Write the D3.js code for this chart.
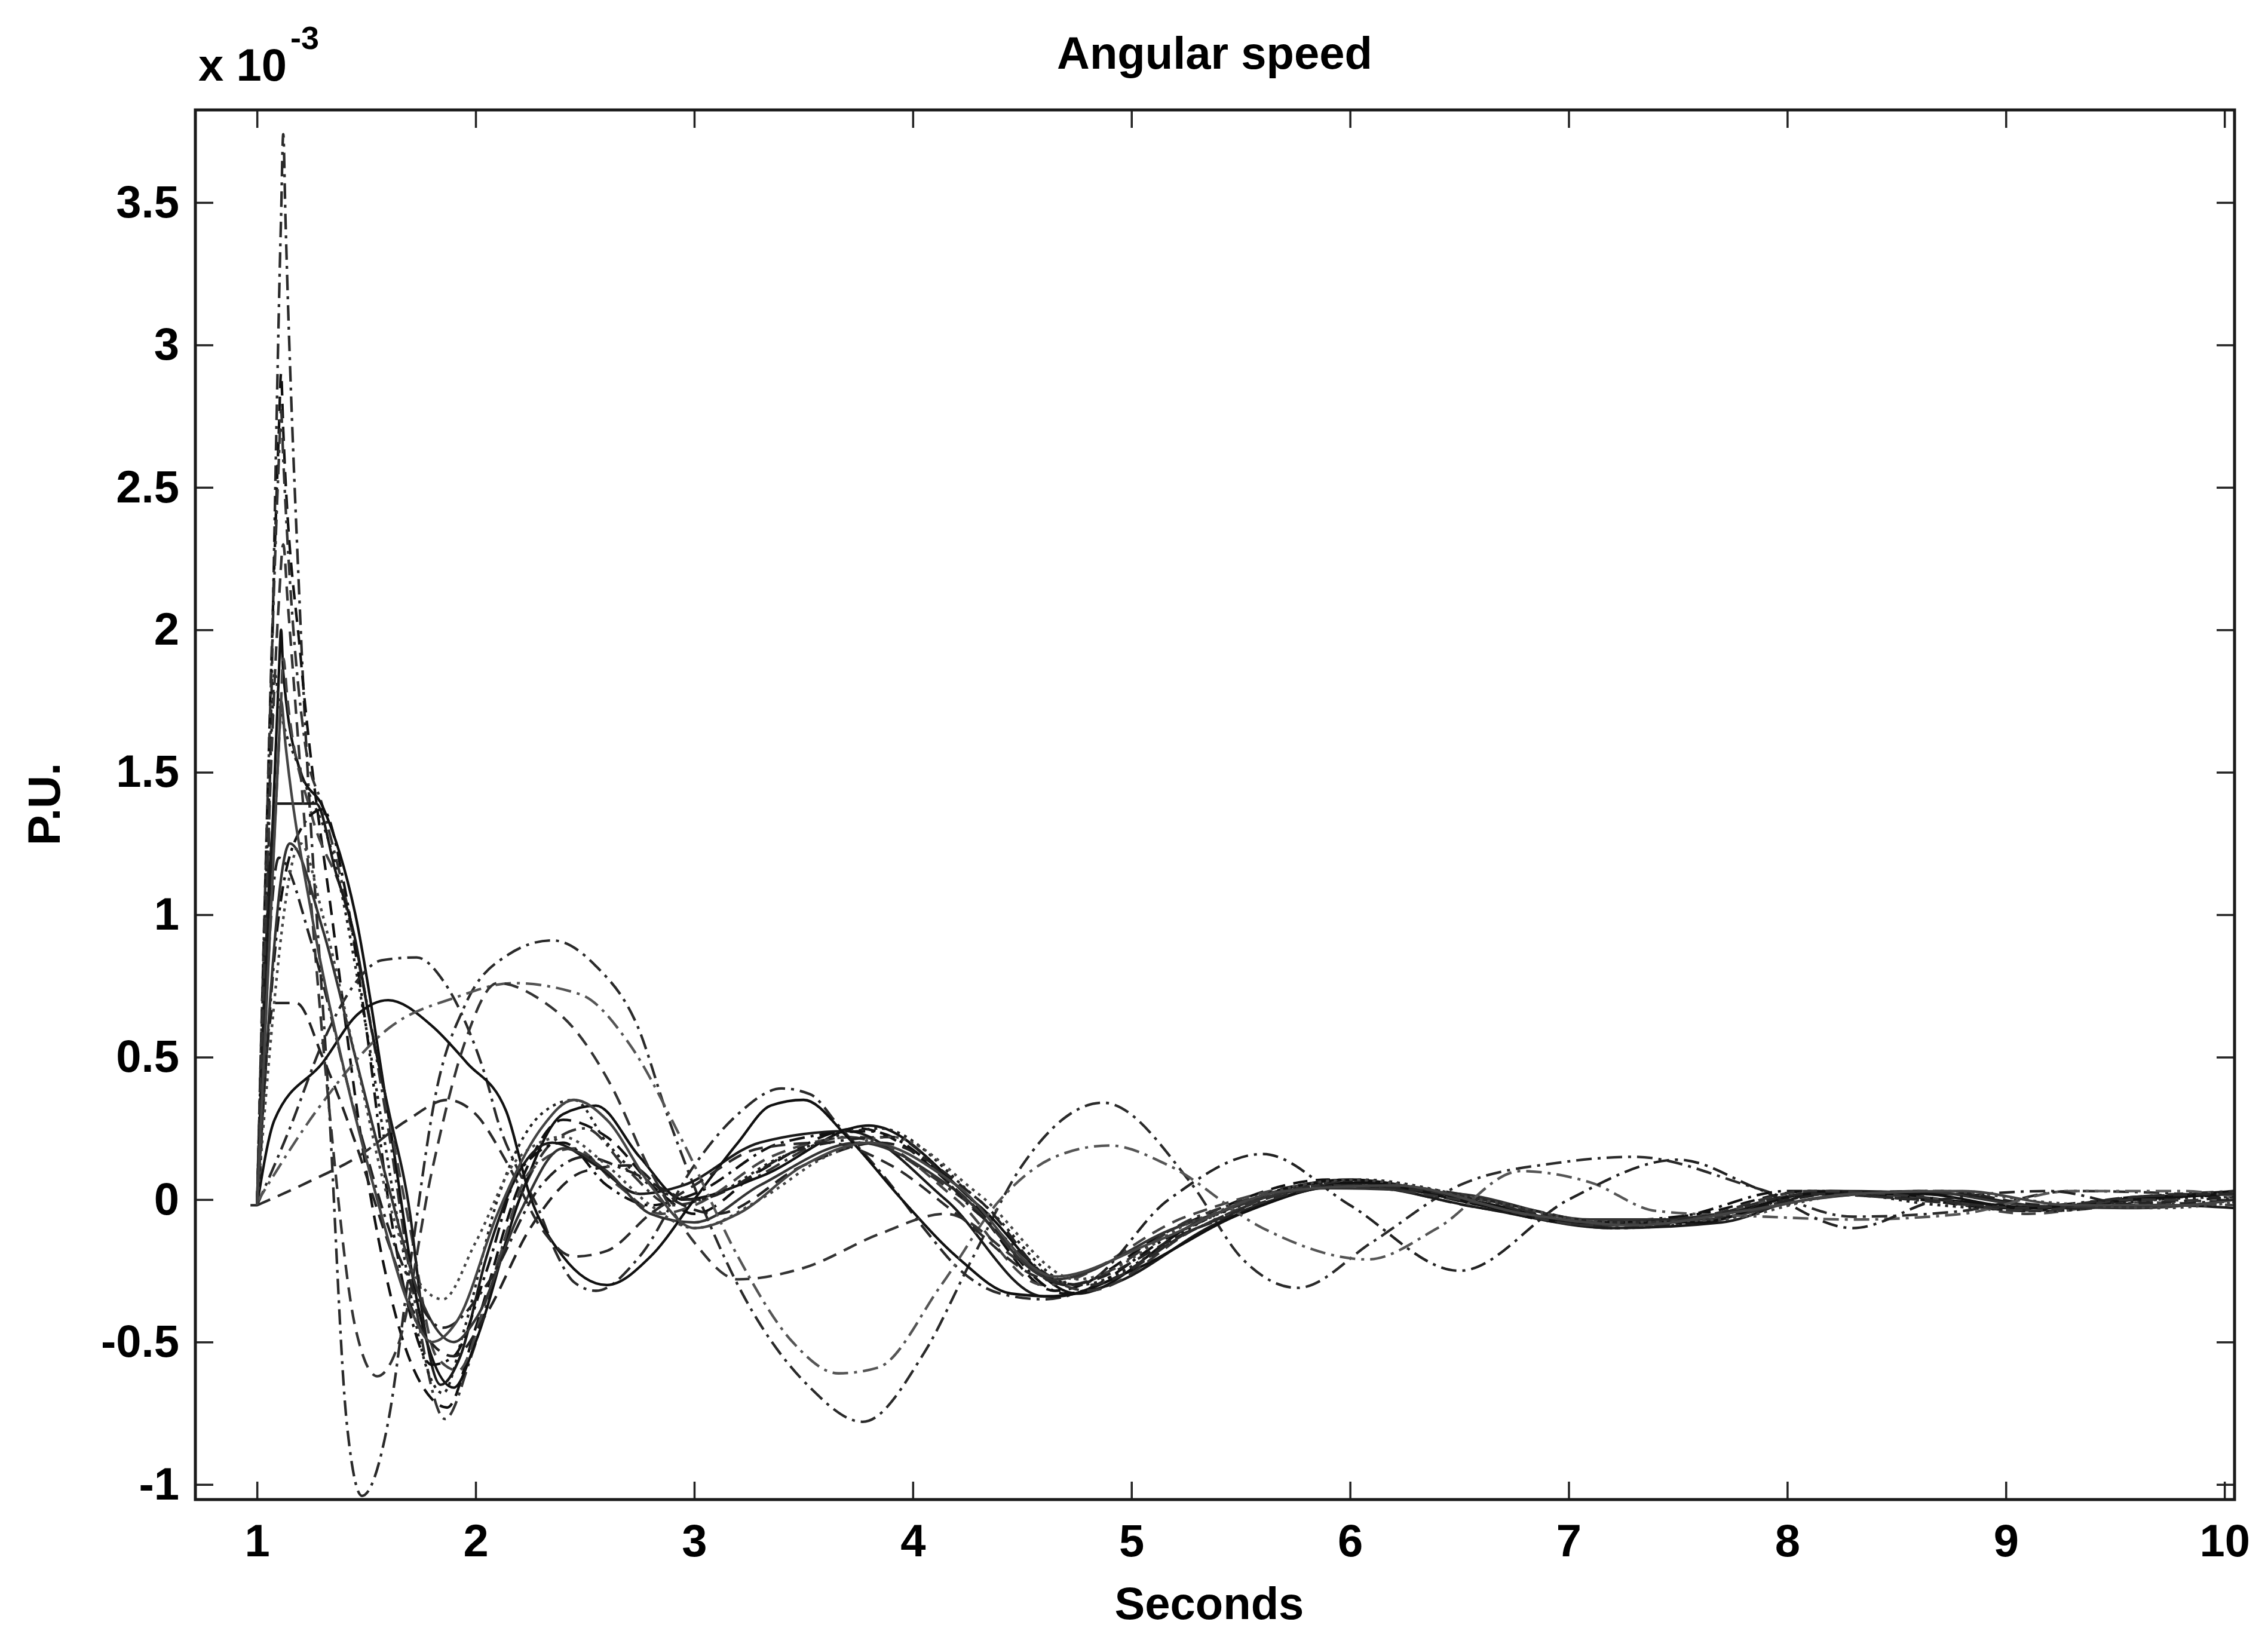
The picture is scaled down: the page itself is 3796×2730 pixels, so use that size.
<!DOCTYPE html>
<html><head><meta charset="utf-8">
<script src="https://cdn.jsdelivr.net/npm/d3@7"></script>
<style>
body{margin:0;background:#fff}
svg{display:block}
text{font-family:"Liberation Sans",Arial,Helvetica,sans-serif;font-weight:bold;fill:#000}
</style>
</head><body>
<script>
// ---------------- data ----------------
const chartTitle = "Angular speed";
const xLabel = "Seconds";
const yLabel = "P.U.";
const yExponent = "-3";
const xTicks = [1,2,3,4,5,6,7,8,9,10];
const xTickLabels = ["1","2","3","4","5","6","7","8","9","10"];
const yTicks = [-1,-0.5,0,0.5,1,1.5,2,2.5,3,3.5];
const yTickLabels = ["-1","-0.5","0","0.5","1","1.5","2","2.5","3","3.5"];
const xLimits = [0.718,10.046];
const yLimits = [-1.053,3.825];

// each curve: [seconds, value x 1e-3]
const c01 = [[0.97,-0.02],[1.0,-0.02],[1.11,3.45],[1.12,3.74],[1.13,3.45],[1.2,2.0],[1.33,0.32],[1.41,-0.78],[1.48,-1.04],[1.6,-0.78],[1.7,-0.23],[1.82,0.38],[1.95,0.68],[2.15,0.86],[2.35,0.91],[2.55,0.82],[2.74,0.61],[2.88,0.29],[3.04,-0.03],[3.18,-0.27],[3.53,-0.66],[3.77,-0.78],[4.05,-0.54],[4.27,-0.21],[4.5,0.12],[4.87,0.34],[5.27,0.06],[5.51,-0.21],[5.76,-0.31],[6.1,-0.15],[6.5,0.05],[6.96,0.13],[7.3,0.15],[7.86,0.04],[8.3,-0.06],[8.8,-0.04],[9.3,0.03],[9.8,0.02],[10.05,0.0]];
const c02 = [[1.0,-0.02],[1.1,2.7],[1.11,2.9],[1.12,2.7],[1.2,1.9],[1.35,0.95],[1.5,0.1],[1.65,-0.45],[1.8,-0.7],[1.87,-0.73],[2.0,-0.45],[2.2,0.05],[2.4,0.28],[2.6,0.22],[2.85,0.02],[3.0,-0.05],[3.3,0.1],[3.75,0.25],[4.25,0.0],[4.65,-0.32],[5.2,-0.1],[5.9,0.07],[6.5,0.0],[7.1,-0.09],[7.6,-0.05],[8.1,0.03],[8.6,0.0],[9.1,-0.04],[9.6,0.01],[10.05,0.02]];
const c03 = [[1.0,-0.02],[1.1,2.6],[1.11,2.77],[1.12,2.6],[1.22,1.6],[1.3,1.38],[1.45,0.9],[1.6,0.25],[1.72,-0.35],[1.86,-0.77],[1.98,-0.55],[2.15,-0.1],[2.35,0.2],[2.5,0.25],[2.7,0.1],[2.9,-0.02],[3.2,0.05],[3.7,0.22],[4.2,0.02],[4.7,-0.3],[5.3,-0.06],[6.0,0.06],[6.6,-0.02],[7.2,-0.1],[7.7,-0.06],[8.2,0.02],[8.7,-0.01],[9.2,-0.04],[9.7,0.0],[10.05,0.03]];
const c04 = [[1.0,-0.02],[1.1,1.85],[1.11,2.0],[1.12,1.85],[1.2,1.5],[1.3,1.38],[1.45,1.0],[1.6,0.3],[1.75,-0.42],[1.9,-0.66],[2.0,-0.5],[2.2,0.0],[2.4,0.3],[2.55,0.33],[2.75,0.15],[2.95,0.0],[3.3,0.08],[3.8,0.26],[4.3,-0.02],[4.75,-0.33],[5.3,-0.08],[6.0,0.07],[6.6,-0.01],[7.15,-0.09],[7.7,-0.05],[8.2,0.03],[8.7,0.0],[9.2,-0.03],[9.7,0.01],[10.05,0.03]];
const c05 = [[1.0,-0.02],[1.11,1.75],[1.12,1.9],[1.14,1.75],[1.25,1.35],[1.4,1.05],[1.55,0.5],[1.7,-0.1],[1.82,-0.55],[1.92,-0.6],[2.05,-0.35],[2.25,0.1],[2.45,0.18],[2.65,0.05],[2.85,-0.05],[3.0,-0.02],[3.35,0.15],[3.75,0.22],[4.2,0.0],[4.6,-0.3],[5.25,-0.06],[5.95,0.06],[6.6,-0.03],[7.1,-0.08],[7.6,-0.06],[8.1,0.02],[8.6,0.01],[9.1,-0.05],[9.6,-0.01],[10.05,-0.02]];
const c06 = [[1.0,-0.02],[1.07,1.7],[1.08,1.85],[1.1,1.75],[1.2,1.5],[1.35,1.2],[1.5,0.6],[1.65,-0.1],[1.78,-0.6],[1.85,-0.68],[1.95,-0.45],[2.1,0.0],[2.3,0.3],[2.45,0.35],[2.6,0.2],[2.8,0.05],[3.0,0.0],[3.4,0.15],[3.85,0.25],[4.3,0.0],[4.75,-0.3],[5.4,-0.05],[6.05,0.07],[6.6,0.0],[7.2,-0.1],[7.7,-0.07],[8.15,0.03],[8.7,-0.02],[9.2,-0.04],[9.7,0.0],[10.05,0.01]];
const c07 = [[1.0,-0.02],[1.09,1.39],[1.27,1.39],[1.36,1.15],[1.45,0.91],[1.51,0.65],[1.6,0.32],[1.7,-0.05],[1.76,-0.42],[1.84,-0.65],[1.93,-0.55],[2.05,-0.2],[2.2,0.1],[2.35,0.2],[2.55,0.12],[2.75,0.02],[2.95,0.05],[3.3,0.2],[3.7,0.24],[4.15,0.0],[4.6,-0.34],[4.9,-0.3],[5.4,-0.08],[6.0,0.05],[6.6,-0.03],[7.2,-0.1],[7.7,-0.08],[8.2,0.03],[8.75,0.02],[9.25,-0.03],[9.75,-0.02],[10.05,-0.03]];
const c08 = [[1.0,-0.02],[1.1,1.0],[1.2,1.3],[1.3,1.37],[1.4,1.1],[1.5,0.6],[1.6,0.0],[1.7,-0.4],[1.8,-0.58],[1.9,-0.55],[2.05,-0.25],[2.2,0.1],[2.4,0.2],[2.6,0.05],[2.8,-0.02],[3.0,0.02],[3.4,0.2],[3.8,0.24],[4.2,0.05],[4.7,-0.33],[5.2,-0.12],[5.9,0.06],[6.4,0.02],[7.0,-0.08],[7.5,-0.06],[8.0,0.03],[8.5,0.02],[9.0,-0.03],[9.5,0.0],[10.05,0.02]];
const c09 = [[1.0,-0.02],[1.15,1.25],[1.3,0.95],[1.45,0.5],[1.6,0.05],[1.75,-0.35],[1.9,-0.5],[2.0,-0.42],[2.2,-0.05],[2.4,0.18],[2.6,0.1],[2.8,-0.05],[3.0,-0.08],[3.3,0.05],[3.75,0.2],[4.2,0.03],[4.65,-0.28],[5.2,-0.1],[5.9,0.04],[6.5,0.02],[7.1,-0.07],[7.6,-0.07],[8.1,0.0],[8.6,0.03],[9.1,-0.02],[9.6,-0.03],[10.05,0.0]];
const c10 = [[1.0,-0.02],[1.08,0.69],[1.18,0.69],[1.3,0.5],[1.45,0.2],[1.6,-0.15],[1.75,-0.45],[1.9,-0.55],[2.05,-0.4],[2.25,-0.1],[2.5,0.1],[2.7,0.12],[2.9,0.0],[3.1,-0.05],[3.5,0.12],[3.85,0.2],[4.3,0.0],[4.7,-0.3],[5.3,-0.1],[6.0,0.05],[6.6,0.0],[7.2,-0.08],[7.7,-0.05],[8.2,0.02],[8.7,0.03],[9.2,-0.02],[9.7,-0.01],[10.05,0.01]];
const c11 = [[1.0,-0.02],[1.15,0.25],[1.3,0.55],[1.45,0.76],[1.57,0.84],[1.73,0.85],[1.85,0.77],[1.96,0.61],[2.05,0.42],[2.1,0.28],[2.19,0.11],[2.28,-0.02],[2.37,-0.19],[2.45,-0.29],[2.55,-0.32],[2.75,-0.2],[3.0,0.12],[3.2,0.3],[3.4,0.39],[3.53,0.37],[3.66,0.26],[3.87,0.08],[4.05,-0.1],[4.22,-0.25],[4.4,-0.33],[4.6,-0.35],[4.85,-0.3],[5.3,-0.1],[6.0,0.06],[6.5,0.02],[7.1,-0.09],[7.6,-0.08],[8.1,0.02],[8.6,0.0],[9.1,-0.03],[9.6,0.01],[10.05,0.03]];
const c12 = [[1.0,-0.02],[1.08,0.28],[1.3,0.48],[1.46,0.65],[1.6,0.7],[1.8,0.61],[1.96,0.48],[2.14,0.31],[2.25,0.01],[2.4,-0.2],[2.6,-0.3],[2.8,-0.2],[3.0,0.0],[3.2,0.2],[3.35,0.33],[3.5,0.35],[3.7,0.22],[3.95,0.0],[4.2,-0.2],[4.45,-0.33],[4.65,-0.34],[5.0,-0.25],[5.5,-0.05],[6.05,0.06],[6.6,-0.02],[7.1,-0.08],[7.6,-0.08],[8.1,0.02],[8.6,0.02],[9.1,-0.03],[9.6,0.0],[10.05,0.02]];
const c13 = [[1.0,-0.01],[1.28,0.32],[1.6,0.6],[1.91,0.71],[2.17,0.76],[2.48,0.72],[2.7,0.55],[2.95,0.2],[3.2,-0.2],[3.45,-0.5],[3.66,-0.61],[3.84,-0.59],[4.13,-0.3],[4.4,0.0],[4.65,0.15],[4.9,0.19],[5.17,0.12],[5.6,-0.1],[6.08,-0.21],[6.4,-0.1],[6.78,0.1],[7.1,0.06],[7.4,-0.04],[7.9,-0.06],[8.3,-0.07],[8.8,-0.05],[9.3,0.03],[9.8,0.03],[10.05,0.01]];
const c14 = [[1.0,-0.02],[1.1,2.1],[1.12,2.3],[1.14,2.1],[1.22,1.3],[1.33,0.32],[1.45,-0.45],[1.55,-0.62],[1.65,-0.5],[1.8,0.1],[1.95,0.55],[2.1,0.76],[2.3,0.7],[2.45,0.6],[2.62,0.4],[2.8,0.1],[3.0,-0.15],[3.2,-0.28],[3.5,-0.24],[3.85,-0.12],[4.15,-0.05],[4.5,-0.22],[4.8,-0.32],[5.3,-0.1],[5.9,0.05],[6.5,0.0],[7.1,-0.09],[7.6,-0.06],[8.1,0.03],[8.6,0.01],[9.1,-0.04],[9.6,0.0],[10.05,-0.01]];
const c15 = [[1.0,-0.02],[1.23,0.06],[1.46,0.15],[1.69,0.28],[1.87,0.35],[2.0,0.3],[2.15,0.12],[2.3,-0.1],[2.45,-0.2],[2.6,-0.18],[2.8,-0.05],[3.0,0.05],[3.3,0.18],[3.6,0.2],[3.9,0.12],[4.2,-0.05],[4.6,-0.28],[4.8,-0.3],[5.3,-0.1],[6.0,0.05],[6.6,0.0],[7.1,-0.08],[7.6,-0.06],[8.1,0.02],[8.6,0.0],[9.1,-0.03],[9.6,0.01],[10.05,0.02]];
const c16 = [[1.0,-0.02],[1.1,1.2],[1.25,0.9],[1.45,0.3],[1.65,-0.2],[1.85,-0.45],[2.05,-0.3],[2.3,0.05],[2.5,0.15],[2.7,0.1],[3.0,0.0],[3.5,0.18],[3.9,0.22],[4.3,-0.05],[4.75,-0.3],[5.17,0.0],[5.6,0.16],[6.0,-0.02],[6.5,-0.25],[7.0,0.0],[7.5,0.14],[7.86,0.04],[8.3,-0.1],[8.7,0.0],[9.2,0.03],[9.6,-0.02],[10.05,0.0]];
const c17 = [[1.0,-0.02],[1.1,1.6],[1.11,1.75],[1.13,1.6],[1.25,1.0],[1.4,0.45],[1.55,0.0],[1.7,-0.38],[1.8,-0.5],[1.92,-0.42],[2.1,-0.05],[2.3,0.25],[2.45,0.35],[2.6,0.28],[2.8,0.05],[3.0,-0.1],[3.2,-0.05],[3.5,0.12],[3.8,0.2],[4.2,0.05],[4.65,-0.27],[5.1,-0.15],[5.7,0.03],[6.2,0.05],[6.8,-0.05],[7.3,-0.09],[7.8,-0.04],[8.3,0.02],[8.8,0.03],[9.3,-0.02],[9.8,-0.02],[10.05,0.0]];
const c18 = [[1.0,-0.02],[1.2,1.25],[1.3,1.0],[1.45,0.5],[1.6,0.0],[1.75,-0.3],[1.85,-0.35],[2.0,-0.15],[2.2,0.15],[2.4,0.22],[2.6,0.12],[2.8,-0.02],[3.0,-0.1],[3.3,0.0],[3.6,0.15],[3.9,0.22],[4.3,0.02],[4.75,-0.28],[5.3,-0.07],[6.0,0.07],[6.6,0.0],[7.2,-0.08],[7.7,-0.07],[8.2,0.01],[8.7,0.03],[9.2,-0.01],[9.7,-0.03],[10.05,-0.01]];

const curves = [c01,c02,c03,c04,c05,c06,c07,c08,c09,c10,c11,c12,c13,c14,c15,c16,c17,c18];

// ---------------- styles ----------------
const lineStyles = [
  {dash:"26,10,5,10", color:"#2a2a2a"},
  {dash:"24,14",      color:"#111"},
  {dash:"26,10,5,10", color:"#333"},
  {dash:null,         color:"#111"},
  {dash:"24,14",      color:"#444"},
  {dash:"5,8",        color:"#222"},
  {dash:null,         color:"#1a1a1a"},
  {dash:"26,10,5,10", color:"#111"},
  {dash:null,         color:"#333"},
  {dash:"24,14",      color:"#222"},
  {dash:"26,10,5,10", color:"#2a2a2a"},
  {dash:null,         color:"#111"},
  {dash:"26,10,5,10", color:"#555"},
  {dash:"24,14",      color:"#333"},
  {dash:"24,14",      color:"#2a2a2a"},
  {dash:"26,10,5,10", color:"#222"},
  {dash:null,         color:"#444"},
  {dash:"5,8",        color:"#444"}
];

// ---------------- layout ----------------
const W = 3796, H = 2730;
const plot = {left:327, right:3740, top:184, bottom:2510};

const svg = d3.select("body").append("svg").attr("width",W).attr("height",H);
svg.append("rect").attr("width",W).attr("height",H).attr("fill","#fff");

const x = d3.scaleLinear().domain(xLimits).range([plot.left, plot.right]);
const y = d3.scaleLinear().domain(yLimits).range([plot.bottom, plot.top]);

svg.append("defs").append("clipPath").attr("id","clip")
  .append("rect").attr("x",plot.left).attr("y",plot.top)
  .attr("width",plot.right-plot.left).attr("height",plot.bottom-plot.top);

const line = d3.line().x(d=>x(d[0])).y(d=>y(d[1])).curve(d3.curveMonotoneX);

const g = svg.append("g").attr("clip-path","url(#clip)");
curves.forEach((c,i)=>{
  const st = lineStyles[i % lineStyles.length];
  g.append("path").datum(c).attr("d",line)
    .attr("fill","none").attr("stroke",st.color).attr("stroke-width",4.3)
    .attr("stroke-linejoin","round")
    .attr("stroke-dasharray",st.dash);
});

// axes
const tickLen = 30;
const fs = 76;
const xAxisB = d3.axisBottom(x).tickValues(xTicks).tickFormat((d,i)=>xTickLabels[i]).tickSizeInner(-tickLen).tickSizeOuter(0).tickPadding(41);
const xAxisT = d3.axisTop(x).tickValues(xTicks).tickFormat("").tickSizeInner(-tickLen).tickSizeOuter(0);
const yAxisL = d3.axisLeft(y).tickValues(yTicks).tickFormat((d,i)=>yTickLabels[i]).tickSizeInner(-tickLen).tickSizeOuter(0).tickPadding(27);
const yAxisR = d3.axisRight(y).tickValues(yTicks).tickFormat("").tickSizeInner(-tickLen).tickSizeOuter(0);

function styleAxis(sel){
  sel.select(".domain").remove();
  sel.selectAll(".tick line").attr("stroke","#222").attr("stroke-width",3.5);
  sel.selectAll(".tick text").attr("font-size",fs).attr("font-family",null).attr("fill","#000");
}
svg.append("g").attr("transform",`translate(0,${plot.bottom})`).call(xAxisB).call(styleAxis);
svg.append("g").attr("transform",`translate(0,${plot.top})`).call(xAxisT).call(styleAxis);
svg.append("g").attr("transform",`translate(${plot.left},0)`).call(yAxisL).call(styleAxis);
svg.append("g").attr("transform",`translate(${plot.right},0)`).call(yAxisR).call(styleAxis);

svg.append("rect").attr("x",plot.left).attr("y",plot.top)
  .attr("width",plot.right-plot.left).attr("height",plot.bottom-plot.top)
  .attr("fill","none").attr("stroke","#1a1a1a").attr("stroke-width",5);

// titles
svg.append("text").attr("x",2033).attr("y",115).attr("text-anchor","middle").attr("font-size",fs).text(chartTitle);
svg.append("text").attr("x",2024).attr("y",2710).attr("text-anchor","middle").attr("font-size",fs).text(xLabel);
svg.append("text").attr("transform","translate(100,1346) rotate(-90)").attr("text-anchor","middle").attr("font-size",fs).text(yLabel);
const ex = svg.append("text").attr("x",332).attr("y",135).attr("font-size",fs);
ex.append("tspan").text("x 10");
svg.append("text").attr("x",486).attr("y",82).attr("font-size",54).text(yExponent);
</script>
</body></html>
